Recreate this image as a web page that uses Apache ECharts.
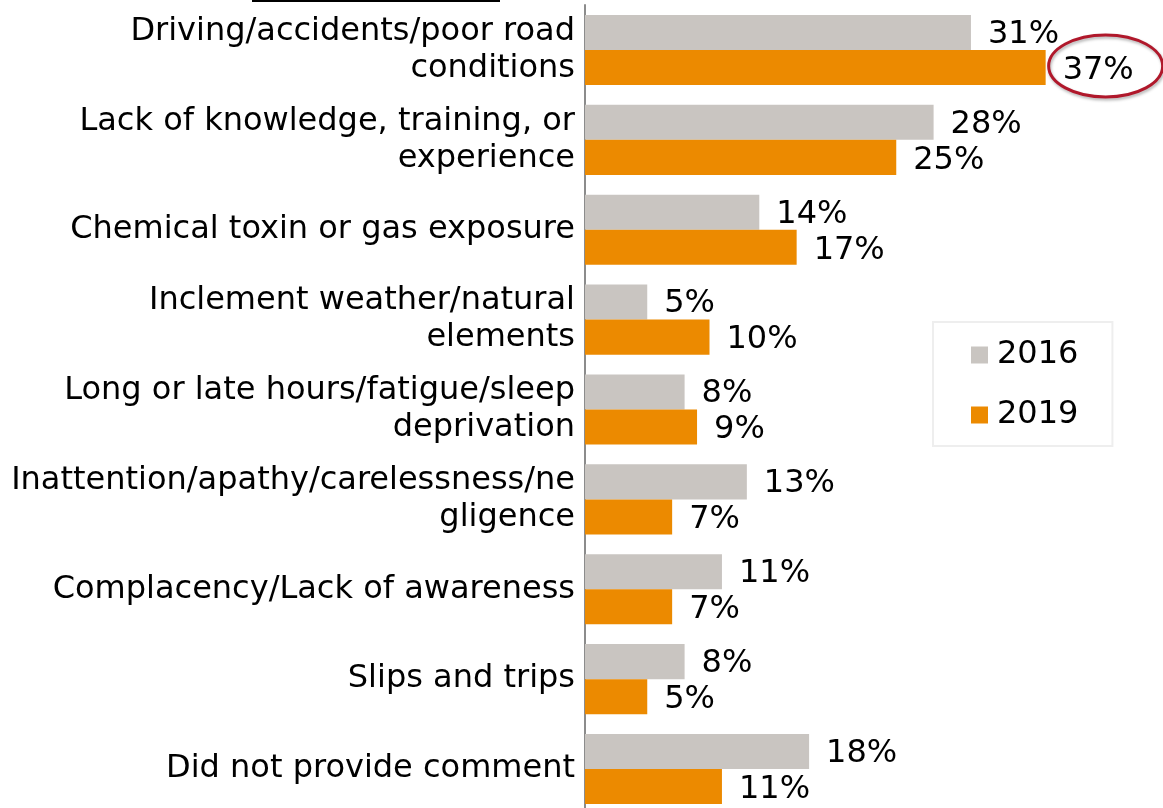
<!DOCTYPE html>
<html>
<head>
<meta charset="utf-8">
<script src="https://cdn.jsdelivr.net/npm/echarts@6/dist/echarts.min.js"></script>
<style>
  html, body { margin: 0; padding: 0; background: #fff; }
  #main { width: 1163px; height: 808px; }
</style>
</head>
<body>
<div id="main"></div>
<script>
// 类别（从上到下）
var categories = [
  "Driving/accidents/poor road\nconditions",
  "Lack of knowledge, training, or\nexperience",
  "Chemical toxin or gas exposure",
  "Inclement weather/natural\nelements",
  "Long or late hours/fatigue/sleep\ndeprivation",
  "Inattention/apathy/carelessness/ne\ngligence",
  "Complacency/Lack of awareness",
  "Slips and trips",
  "Did not provide comment"
];
var values2016 = [31, 28, 14, 5, 8, 13, 11, 8, 18];
var values2019 = [37, 25, 17, 10, 9, 7, 7, 5, 11];
var seriesNames = ["2016", "2019"];
var colors = ["#C9C5C1", "#EC8A00"];

var FONT = "DejaVu Sans";
var FS = 32;
var chart = echarts.init(document.getElementById("main"));

function makeSeries(name, data, color, offsetY) {
  return {
    name: name,
    type: "bar",
    data: data,
    barGap: "0%",
    barCategoryGap: "22%",
    itemStyle: { color: color },
    label: {
      show: true,
      position: "right",
      distance: 17,
      offset: [0, offsetY],
      formatter: "{c}%",
      fontFamily: FONT,
      fontSize: FS,
      color: "#000"
    }
  };
}

var option = {
  animation: false,
  textStyle: { fontFamily: FONT },
  grid: {
    left: 585,
    width: 498,
    top: 5,
    height: 809,
    outerBoundsMode: "none",
    containLabel: false
  },
  legend: {
    orient: "vertical",
    left: 933,
    top: 322,
    padding: [17, 34, 15, 38],
    itemGap: 28,
    itemWidth: 17,
    itemHeight: 17,
    borderColor: "#eeeeee",
    borderWidth: 2,
    icon: "rect",
    textStyle: { fontFamily: FONT, fontSize: FS, lineHeight: 32, color: "#000", padding: [0, 0, 0, 4] },
    data: seriesNames
  },
  xAxis: {
    type: "value",
    min: 0,
    max: 40,
    show: false
  },
  yAxis: {
    type: "category",
    inverse: true,
    data: categories,
    axisTick: { show: false },
    axisLine: { show: true, lineStyle: { color: "#8c8c8c", width: 2 } },
    axisLabel: {
      interval: 0,
      showMinLabel: true,
      showMaxLabel: true,
      hideOverlap: false,
      margin: 10,
      fontFamily: FONT,
      fontSize: FS,
      lineHeight: 37,
      color: "#000",
      align: "right",
      padding: [17, 0, 0, 0]
    }
  },
  series: [
    makeSeries(seriesNames[0], values2016, colors[0], 2),
    makeSeries(seriesNames[1], values2019, colors[1], 3)
  ]
};
chart.setOption(option);

// 红色椭圆标注 37%，位置由坐标系换算
var p = chart.convertToPixel({ seriesIndex: 1 }, [values2019[0], 0]);
chart.setOption({
  graphic: [
    {
      type: "line",
      shape: { x1: 252, y1: 1, x2: 500, y2: 1 },
      style: { stroke: "#000", lineWidth: 2 }
    },
    {
      type: "ellipse",
      shape: { cx: p[0] + 60, cy: p[1] + 16, rx: 57, ry: 31 },
      style: {
        fill: null,
        stroke: "#B0182B",
        lineWidth: 3,
        shadowBlur: 3,
        shadowColor: "rgba(0,0,0,0.3)",
        shadowOffsetX: 1,
        shadowOffsetY: 2
      }
    }
  ]
});
</script>
</body>
</html>
